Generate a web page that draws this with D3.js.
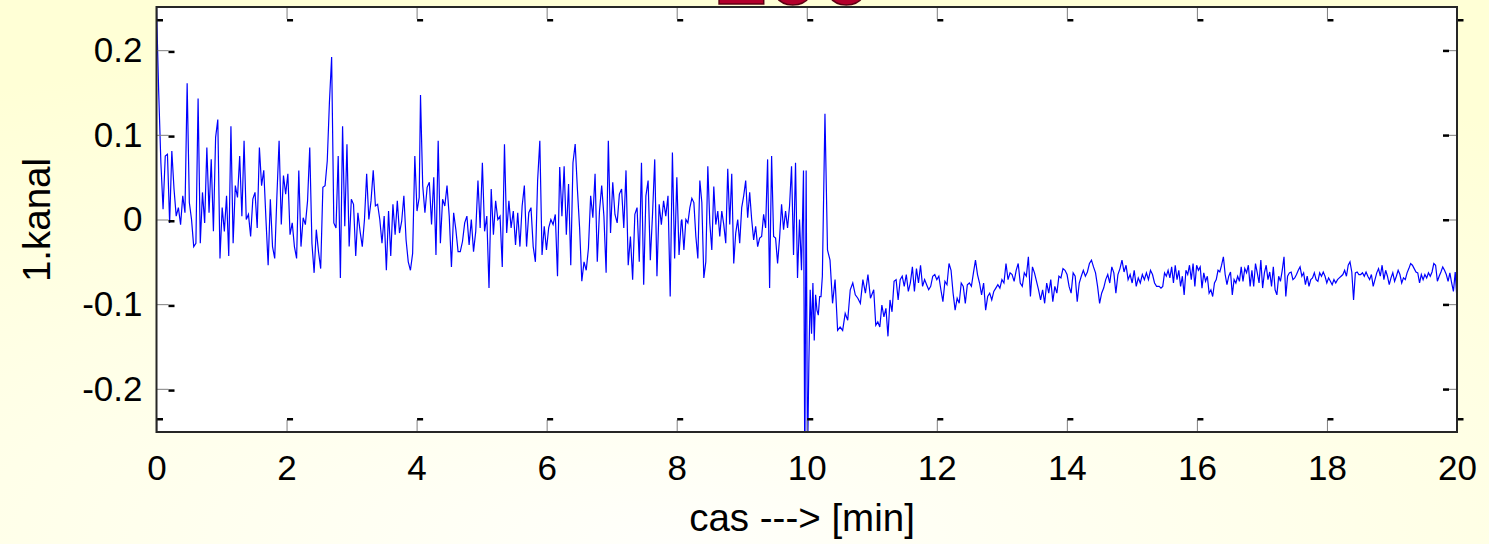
<!DOCTYPE html>
<html>
<head>
<meta charset="utf-8">
<script src="https://cdn.jsdelivr.net/npm/d3@7"></script>
<style>
  html, body { margin: 0; padding: 0; overflow: hidden; }
  svg { display: block; }
</style>
</head>
<body>
<svg id="chart"></svg>
<script>
// signal, split in time segments [min]
let kanalA = [0.25, 0.151, 0.067, 0.012, 0.075, 0.077, -0.004, 0.081, 0.036, 0.004,
  0.014, -0.006, 0.028, 0.008, 0.161, 0.020, 0.000, -0.032, -0.028, 0.143,
  -0.028, 0.032, -0.004, 0.085, 0.008, 0.071, -0.014, 0.097, 0.118, -0.046,
  0.014, -0.014, 0.028, -0.043, 0.110, -0.028, 0.040, 0.026, 0.075, 0.004,
  0.093, 0.000, 0.006, -0.020, 0.024, 0.032, -0.010, 0.085, 0.040, 0.058,
  0.000, -0.054, 0.024, -0.032, -0.046, 0.028, 0.093, -0.006, 0.052, 0.030,
  0.054, -0.018, -0.004, -0.032, -0.046, 0.058, -0.032, 0.002, -0.006, 0.022,
  0.085, -0.028, -0.063, -0.012, -0.038, -0.058, 0.038, 0.040, 0.069, 0.139,
  0.192, -0.004, -0.010, 0.075, -0.069, 0.110, -0.008, 0.089, -0.032, 0.024,
  0.018, -0.043, 0.008, -0.014, -0.032, 0.000, 0.054, 0.000, 0.022, 0.058,
  0.016, 0.018, 0.000, -0.028, 0.004, -0.060, 0.010, -0.043, 0.018, -0.018,
  0.022, -0.016, -0.002, 0.028, -0.024, -0.050, -0.060, -0.040, 0.075, 0.010,
  0.026];

let kanalB = [0.147, 0.040, 0.008, 0.038, 0.044, -0.006, 0.050, -0.042, 0.093, -0.028,
  0.024, 0.016, 0.040, 0.004, -0.056, 0.008, -0.012, -0.038, -0.038, -0.026,
  -0.004, 0.004, -0.030, 0.000, -0.038, -0.014, 0.046, -0.010, 0.067, -0.014,
  0.004, -0.081, 0.036, -0.018, 0.022, 0.000, 0.004, -0.056, 0.089, -0.016,
  0.022, -0.010, 0.010, -0.030, 0.008, -0.032, 0.016, 0.040, -0.032, 0.008,
  0.014, -0.032, -0.050, 0.046, 0.093, -0.042, -0.008, -0.036, -0.010, 0.000,
  -0.006, 0.006, -0.067, 0.062, 0.004, 0.063, -0.018, 0.042, -0.054, 0.067,
  0.089, 0.036, -0.010, -0.073, -0.050, -0.060, -0.034, 0.028, 0.002, 0.054,
  -0.050, 0.010, 0.040, 0.004, -0.063, 0.093, -0.016, 0.044, 0.006, -0.004,
  0.030, 0.036, -0.010, 0.058, -0.054, -0.020, -0.071, 0.006, 0.014, -0.050,
  0.067, -0.077, 0.028, 0.046, -0.048, 0.006, 0.071, -0.067, 0.018, -0.006,
  0.022, 0.004, 0.028, -0.091, 0.079, -0.046, 0.050, -0.042, -0.002];

let kanalC = [0.000, -0.036, 0.000, -0.004, 0.014, 0.025, 0.020, -0.020, -0.046, 0.046,
  0.020, -0.069, -0.050, 0.063, -0.004, -0.036, 0.039, -0.006, 0.010, -0.020,
  0.010, -0.006, -0.028, 0.060, -0.006, 0.054, -0.052, -0.016, 0.000, -0.028,
  0.014, 0.028, 0.046, 0.002, 0.032, 0.000, -0.024, -0.008, -0.032, -0.022,
  -0.020, 0.006, -0.010, 0.071, -0.081, 0.075, -0.020, -0.022, -0.052, -0.022,
  0.018, -0.012, 0.010, -0.010, 0.016, 0.063, -0.042, 0.067, -0.069, 0.000,
  -0.060, 0.058];

// the drop at 10 min
let kanalD = [-0.30, 0.058, -0.29, -0.171, -0.083, -0.135, -0.075, -0.143, -0.089, -0.107,
  -0.113, -0.091, -0.091, -0.067];

let kanalE = [0.125, -0.036, -0.048, -0.099, -0.071, -0.131, -0.127, -0.131, -0.111, -0.119,
  -0.083, -0.075, -0.089, -0.093, -0.099, -0.071, -0.087, -0.065, -0.093];

let kanalF = [-0.083, -0.125, -0.121, -0.127, -0.101, -0.115, -0.105, -0.138, -0.095, -0.109,
  -0.073, -0.071, -0.095, -0.071, -0.067, -0.079, -0.065, -0.085, -0.075, -0.056,
  -0.085, -0.058, -0.075, -0.054, -0.079, -0.071, -0.077, -0.083, -0.079, -0.067,
  -0.065, -0.071, -0.067, -0.083, -0.097, -0.073, -0.077, -0.052, -0.060, -0.087,
  -0.107, -0.093, -0.099, -0.075, -0.079, -0.099, -0.077, -0.075, -0.079, -0.063,
  -0.048, -0.065, -0.075, -0.089, -0.075, -0.107, -0.091, -0.087, -0.095, -0.085,
  -0.081, -0.077, -0.081, -0.071, -0.075, -0.052, -0.071, -0.063, -0.065, -0.073,
  -0.060, -0.052, -0.075, -0.079, -0.063, -0.067, -0.044, -0.091, -0.056, -0.063,
  -0.073, -0.083, -0.095, -0.083, -0.099, -0.075, -0.087, -0.071, -0.097, -0.079,
  -0.087, -0.067, -0.069, -0.058, -0.060, -0.065, -0.079, -0.087, -0.063, -0.067,
  -0.097, -0.075, -0.067, -0.060, -0.067, -0.062, -0.052, -0.048, -0.056, -0.063,
  -0.079, -0.099, -0.087, -0.081, -0.071, -0.065, -0.075, -0.056, -0.063, -0.087,
  -0.065, -0.058, -0.048, -0.062, -0.054, -0.071, -0.065, -0.075, -0.060, -0.079,
  -0.069, -0.075, -0.065, -0.071, -0.063, -0.071, -0.060, -0.065, -0.075, -0.079];

let kanalG = [-0.079, -0.081, -0.079, -0.063, -0.067, -0.060, -0.069, -0.056, -0.075, -0.054,
  -0.071, -0.060, -0.079, -0.067, -0.089, -0.060, -0.065, -0.054, -0.071, -0.052,
  -0.079, -0.054, -0.060, -0.056, -0.081, -0.063, -0.073, -0.067, -0.087, -0.083,
  -0.091, -0.075, -0.071, -0.060, -0.062, -0.054, -0.044, -0.065, -0.077, -0.067,
  -0.062, -0.089, -0.071, -0.075, -0.067, -0.073, -0.056, -0.073, -0.058, -0.063,
  -0.054, -0.079, -0.060, -0.079, -0.052, -0.063, -0.075, -0.048, -0.081, -0.063,
  -0.054, -0.071, -0.062, -0.079, -0.056, -0.083, -0.089, -0.067, -0.073, -0.060,
  -0.044, -0.091, -0.067, -0.063, -0.062, -0.071, -0.069, -0.065, -0.060, -0.056,
  -0.067, -0.063, -0.077, -0.067, -0.079, -0.071, -0.069, -0.063, -0.071, -0.073,
  -0.063, -0.067, -0.062, -0.067, -0.075, -0.069, -0.073, -0.077, -0.071, -0.075,
  -0.071, -0.069, -0.067, -0.065, -0.060, -0.067, -0.054, -0.050, -0.062, -0.095,
  -0.063, -0.062, -0.065, -0.065, -0.063, -0.067, -0.062, -0.067, -0.071, -0.065,
  -0.079, -0.071, -0.063, -0.058, -0.067, -0.054, -0.071, -0.060, -0.067, -0.077,
  -0.069, -0.063, -0.073, -0.067, -0.060, -0.065, -0.075, -0.069, -0.071, -0.063,
  -0.058, -0.052, -0.054, -0.058, -0.062, -0.063, -0.075, -0.065, -0.071, -0.065,
  -0.069, -0.063, -0.067, -0.062, -0.052, -0.054, -0.073, -0.067, -0.062, -0.056,
  -0.060, -0.065, -0.073, -0.063, -0.075, -0.085, -0.062, -0.095];

// start and end time of each segment [min]
let segmentTimes = [[0, 4.04], [4.06, 8.07], [8.08, 9.95], [9.97, 10.24],
  [10.28, 10.98], [11.03, 15.38], [15.42, 20]];
let segmentValues = [kanalA, kanalB, kanalC, kanalD, kanalE, kanalF, kanalG];

let xTicks = [0, 2, 4, 6, 8, 10, 12, 14, 16, 18, 20];
let yTicks = [-0.2, -0.1, 0, 0.1, 0.2];
let xDomain = [0, 20];
let yDomain = [-0.251, 0.251];
let xLabel = 'cas ---> [min]';
let yLabel = '1.kanal';
let slideTitle = '100';

function createGraph() {
  let width = 1489;
  let height = 544;
  let plot = { left: 156.5, right: 1457, top: 7, bottom: 432 };
  let font = '"Liberation Sans", Arial, sans-serif';

  let svg = d3.select('#chart');
  svg.selectAll('*').remove();
  svg.attr('width', width).attr('height', height);

  // slide background
  let defs = svg.append('defs');
  let grad = defs.append('radialGradient')
    .attr('id', 'bg')
    .attr('cx', '45%').attr('cy', '100%').attr('r', '95%');
  grad.append('stop').attr('offset', '0%').attr('stop-color', '#fffffb');
  grad.append('stop').attr('offset', '100%').attr('stop-color', '#ffffd6');

  defs.append('clipPath').attr('id', 'plotclip')
    .append('rect')
    .attr('x', plot.left).attr('y', plot.top)
    .attr('width', plot.right - plot.left)
    .attr('height', plot.bottom - plot.top);

  svg.append('rect')
    .attr('width', width).attr('height', height)
    .attr('fill', 'url(#bg)');

  // slide title, mostly hidden behind the axes
  svg.append('text')
    .attr('x', 793).attr('y', 4)
    .attr('text-anchor', 'middle')
    .style('font-family', font)
    .style('font-weight', 'bold')
    .style('font-size', '96px')
    .style('fill', '#b3002c')
    .style('stroke', '#5a0012')
    .style('stroke-width', 1.5)
    .text(slideTitle);

  svg.append('rect')
    .attr('x', plot.left).attr('y', plot.top)
    .attr('width', plot.right - plot.left)
    .attr('height', plot.bottom - plot.top)
    .attr('fill', 'white');

  let xScale = d3.scaleLinear().domain(xDomain).range([plot.left, plot.right]);
  let yScale = d3.scaleLinear().domain(yDomain).range([plot.bottom, plot.top]);

  // build points
  let points = [];
  segmentValues.forEach((vals, i) => {
    let toTime = d3.scaleLinear().domain([0, vals.length - 1]).range(segmentTimes[i]);
    vals.forEach((v, j) => points.push({ t: toTime(j), v: v }));
  });

  let line = d3.line()
    .x(d => xScale(d.t))
    .y(d => yScale(d.v));

  svg.append('path')
    .datum(points)
    .attr('clip-path', 'url(#plotclip)')
    .attr('d', line)
    .attr('fill', 'none')
    .attr('stroke', '#0000ff')
    .attr('stroke-width', 1.2)
    .attr('stroke-linejoin', 'miter');

  // axes, ticks inside like matlab
  function styleAxis(g, dash) {
    g.select('.domain').remove();
    g.selectAll('.tick line').attr('stroke', '#7f7f7f').attr('stroke-width', 1);
    g.selectAll('.tick').append('rect')
      .attr('x', dash[0]).attr('y', dash[1])
      .attr('width', dash[2]).attr('height', dash[3])
      .attr('fill', 'black');
    g.selectAll('text')
      .style('font-family', font)
      .style('font-size', '35px')
      .style('fill', 'black');
  }

  svg.append('g')
    .attr('transform', `translate(0, ${plot.bottom})`)
    .call(d3.axisBottom(xScale).tickValues(xTicks).tickSizeInner(-12).tickSizeOuter(0).tickPadding(23))
    .call(g => styleAxis(g, [0, -14, 6, 2.5]));

  svg.append('g')
    .attr('transform', `translate(0, ${plot.top})`)
    .call(d3.axisTop(xScale).tickValues(xTicks).tickSizeInner(-12).tickSizeOuter(0).tickFormat(''))
    .call(g => styleAxis(g, [0, 12, 6, 2.5]));

  // plain hyphen for negatives, as in the original
  svg.append('g')
    .attr('transform', `translate(${plot.left}, 0)`)
    .call(d3.axisLeft(yScale).tickValues(yTicks).tickSizeInner(-12).tickSizeOuter(0).tickPadding(14)
      .tickFormat(d => String(d)))
    .call(g => styleAxis(g, [12, 0, 6, 2.5]));

  svg.append('g')
    .attr('transform', `translate(${plot.right}, 0)`)
    .call(d3.axisRight(yScale).tickValues(yTicks).tickSizeInner(-12).tickSizeOuter(0).tickFormat(''))
    .call(g => styleAxis(g, [-14, -1, 6, 2.5]));

  // box
  svg.append('rect')
    .attr('x', plot.left).attr('y', plot.top)
    .attr('width', plot.right - plot.left)
    .attr('height', plot.bottom - plot.top)
    .attr('fill', 'none')
    .attr('stroke', '#262626')
    .attr('stroke-width', 2);

  // labels (a bit bigger than tick labels)
  svg.append('text')
    .attr('x', 802)
    .attr('y', 531)
    .attr('text-anchor', 'middle')
    .style('font-family', font)
    .style('font-size', '38.5px')
    .style('fill', 'black')
    .text(xLabel);

  svg.append('text')
    .attr('transform', `translate(50, 220) rotate(-90)`)
    .attr('text-anchor', 'middle')
    .style('font-family', font)
    .style('font-size', '38.5px')
    .style('fill', 'black')
    .text(yLabel);
}

createGraph();
</script>
</body>
</html>
